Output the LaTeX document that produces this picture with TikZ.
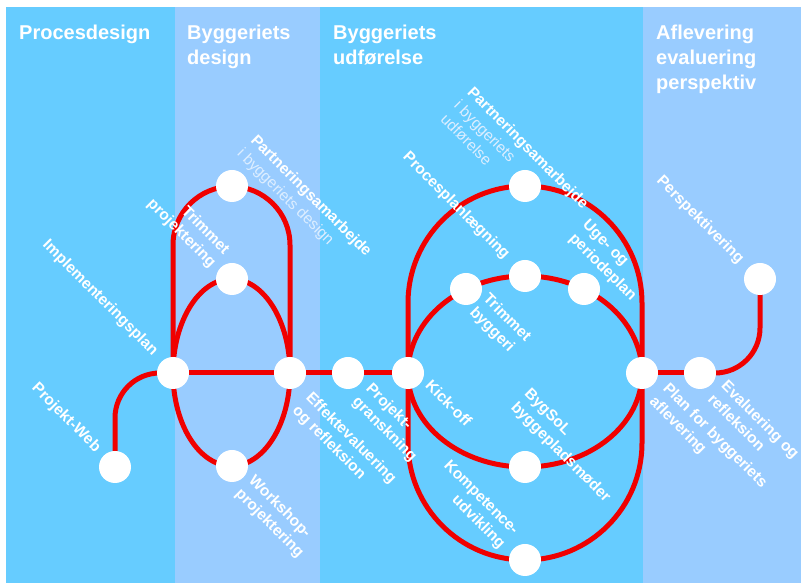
\documentclass[tikz,border=0pt]{standalone}
\usepackage{fontspec}
\setmainfont{Liberation Sans}
\usepackage{xcolor}
\usepackage{tikz}
\usetikzlibrary{positioning}

\definecolor{bandblue}{HTML}{66CCFF}
\definecolor{bandpale}{HTML}{99CCFF}
\definecolor{trackred}{HTML}{F00000}
\definecolor{paletext}{HTML}{DDEEFF}
\newcommand{\lighttext}[1]{{\mdseries\color{paletext}#1}}

\pgfdeclarelayer{back}
\pgfdeclarelayer{track}
\pgfsetlayers{back,track,main}

\begin{document}
\begin{tikzpicture}[x=1pt,y=1pt,on grid,line join=round]
						\tikzstyle{stop}=[circle, fill=white, minimum size=32pt, inner sep=0pt]
						\tikzstyle{rail}=[draw=trackred, line width=5pt]
						\tikzstyle{lbl}=[text=white, rotate=-45, inner sep=0pt, font=\bfseries\fontsize{15.5}{19}\selectfont]
						\tikzstyle{head}=[text=white, anchor=north west, inner sep=0pt, align=left, font=\bfseries\fontsize{20}{25}\selectfont]
						\useasboundingbox (0,0) rectangle (801,583);

						\node[stop] 		(impl) at (173,210)              	{};
						\node[stop] 		(web) [below left=94pt and 58pt of impl]    {};
						\node[stop] 		(effekt) [right=117pt of impl]          {};
						\node[stop] 		(partD) [above right=187pt and 59pt of impl] {};
						\node[stop] 		(trimP) [above right=94pt and 59pt of impl]  {};
						\node[stop] 		(work) [below right=93pt and 59pt of impl]   {};
						\node[stop] 		(gransk) [right=58pt of effekt]         {};
						\node[stop] 		(kick) [right=60pt of gransk]           {};
						\node[stop] 		(plan) [right=234pt of kick]            {};
						\node[stop] 		(partU) [above right=187pt and 117pt of kick] {};
						\node[stop] 		(procpl) [above right=97pt and 117pt of kick] {};
						\node[stop] 		(trimB) [below left=13pt and 59pt of procpl] {};
						\node[stop] 		(uge) [below right=13pt and 59pt of procpl]  {};
						\node[stop] 		(bygsol) [below right=94pt and 117pt of kick] {};
						\node[stop] 		(komp) [below right=187pt and 117pt of kick]  {};
						\node[stop] 		(eval) [right=58pt of plan]             {};
						\node[stop] 		(persp) [above right=94pt and 60pt of eval]  {};

						\begin{pgfonlayer}{back}
							\fill[bandblue] (6,0) rectangle (175,576);
							\fill[bandpale] (175,0) rectangle (320,576);
							\fill[bandblue] (320,0) rectangle (643,576);
							\fill[bandpale] (643,0) rectangle (801,576);
						\end{pgfonlayer}

						\begin{pgfonlayer}{track}
							\draw[rail, rounded corners=45pt] (web.center) |- (impl.center);
							\draw[rail] (impl) -- (effekt) -- (gransk) -- (kick);
							\draw[rail] (plan) -- (eval);
							\draw[rail, rounded corners=45pt] (eval.center) -| (persp.center);
							\draw[rail] (impl.center) -- ++(0,128) arc[start angle=180, end angle=0, radius=58.5] -- (effekt.center);
							\draw[rail] (impl.center) arc[start angle=180, end angle=0, x radius=58.5, y radius=94] -- (effekt.center);
							\draw[rail] (impl.center) arc[start angle=180, end angle=360, x radius=58.5, y radius=93] -- (effekt.center);
							\draw[rail] (kick.center) -- ++(0,70) arc[start angle=180, end angle=0, radius=117] -- (plan.center);
							\draw[rail] (kick.center) arc[start angle=180, end angle=0, x radius=117, y radius=97] -- (plan.center);
							\draw[rail] (kick.center) arc[start angle=180, end angle=360, x radius=117, y radius=94] -- (plan.center);
							\draw[rail] (kick.center) -- ++(0,-70) arc[start angle=180, end angle=360, radius=117] -- (plan.center);
						\end{pgfonlayer}

						\node[head] 		(procH) at (19,558)   	{Procesdesign};
						\node[head] 		(designH) at (187,558) 	{Byggeriets\\design};
						\node[head] 		(udfH) at (333,558)   	{Byggeriets\\udførelse};
						\node[head] 		(aflH) at (656,558)   	{Aflevering\\evaluering\\perspektiv};

						\node[lbl] 		(webL) at (66,165)            	{Projekt-Web};
						\node[lbl] 		(implL) at (100,285)          	{Implementeringsplan};
						\node[lbl, align=right] (trimPL) at (188,356)  	{Trimmet\\projektering};
						\node[lbl, align=left] 	(partDL) at (304,380)  	{Partneringsamarbejde\\\lighttext{i byggeriets design}};
						\node[lbl, align=left] 	(effektL) at (344,138) 	{Effektevaluering\\og refleksion};
						\node[lbl, align=left] 	(granskL) at (391,160) 	{Projekt-\\granskning};
						\node[lbl, align=left] 	(workL) at (276,66)    	{Workshop-\\projektering};
						\node[lbl] 		(procplL) at (456,377)        	{Procesplanlægning};
						\node[lbl, align=left] 	(partUL) at (515,422)  	{Partneringsamarbejde\\\lighttext{i byggeriets}\\\lighttext{udførelse}};
						\node[lbl, align=left] 	(ugeL) at (609,322)    	{Uge- og\\periodeplan};
						\node[lbl, align=left] 	(trimBL) at (500,258)  	{Trimmet\\byggeri};
						\node[lbl] 		(perspL) at (700,363)         	{Perspektivering};
						\node[lbl] 		(kickL) at (449,180)          	{Kick-off};
						\node[lbl, align=left] 	(bygsolL) at (567,137) 	{BygSoL\\byggepladsmøder};
						\node[lbl, align=left] 	(planL) at (708,140)   	{Plan for byggeriets\\aflevering};
						\node[lbl, align=left] 	(evalL) at (754,157)   	{Evaluering og\\refleksion};
						\node[lbl, align=right] (kompL) at (474,78)    	{Kompetence-\\udvikling};

				\end{tikzpicture}
\end{document}
